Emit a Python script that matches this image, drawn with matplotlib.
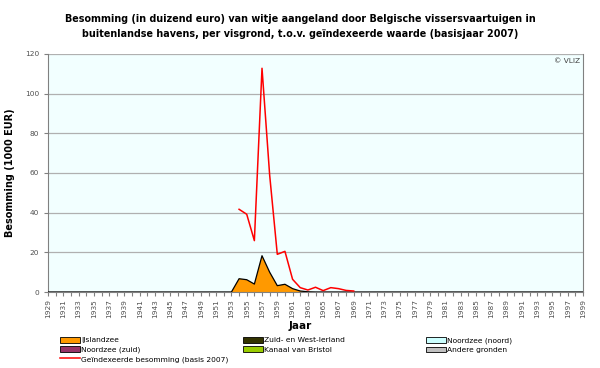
import numpy as np
import matplotlib.pyplot as plt
from matplotlib.patches import Patch
from matplotlib.lines import Line2D

years = list(range(1929, 2000))

# IJslandzee besomming (1000 EUR), only non-zero in 1953-1963
ijsland_years = [1953, 1954, 1955, 1956, 1957, 1958, 1959, 1960, 1961, 1962, 1963]
ijsland_vals = [0.0, 6.7, 6.2, 4.0, 18.3, 10.0, 3.2, 3.9, 1.7, 0.5, 0.1]

# geindexeerde besomming (basis 2007)
index_years = [1954, 1955, 1956, 1957, 1958, 1959, 1960, 1961, 1962, 1963,
               1964, 1965, 1966, 1967, 1968, 1969]
index_vals = [41.7, 39.2, 25.9, 112.8, 59.0, 19.0, 20.5, 6.4, 2.2, 1.0,
              2.4, 0.7, 2.2, 1.7, 0.8, 0.5]

ijsland = np.zeros(len(years))
for y, v in zip(ijsland_years, ijsland_vals):
    ijsland[years.index(y)] = v

fig = plt.figure(figsize=(6, 3.68), dpi=100)
ax = fig.add_axes([0.08, 0.2065, 0.8917, 0.6468])
ax.set_facecolor('#f2ffff')

ax.fill_between(years, 0, ijsland, facecolor='#ff9900', edgecolor='none', zorder=2)
ax.plot(years, ijsland, color='black', lw=0.9, zorder=3)
ax.plot(index_years, index_vals, color='#ff0000', lw=1.1, zorder=4)

ax.set_xlim(1929, 1999)
ax.set_ylim(0, 120)
ax.set_yticks(range(0, 121, 20))
ax.set_xticks(years)
ax.set_xticklabels([str(y) if (y - 1929) % 2 == 0 else '' for y in years],
                   rotation=90, fontsize=5.3, color='#505050')
ax.tick_params(axis='y', labelsize=5.3, labelcolor='#505050', length=3, color='#808080')
ax.tick_params(axis='x', length=3, color='#808080', pad=2)
ax.yaxis.grid(True, color='#b0b0b0', lw=0.9)
ax.set_axisbelow(True)
for s in ['left', 'bottom', 'right']:
    ax.spines[s].set_color('#808080')
    ax.spines[s].set_linewidth(0.8)
ax.spines['top'].set_visible(False)

ax.set_ylabel('Besomming (1000 EUR)', fontsize=7, fontweight='bold', labelpad=7)
ax.text(0.995, 0.985, '© VLIZ', transform=ax.transAxes, ha='right', va='top',
        fontsize=5.3, color='#404040')

fig.text(0.5, 0.962, 'Besomming (in duizend euro) van witje aangeland door Belgische vissersvaartuigen in\n'
         'buitenlandse havens, per visgrond, t.o.v. geïndexeerde waarde (basisjaar 2007)',
         ha='center', va='top', fontsize=6.9, fontweight='bold', linespacing=1.6)
fig.text(0.5, 1 - 326 / 368, 'Jaar', ha='center', va='center', fontsize=7.5, fontweight='bold')

def patch(c):
    return Patch(facecolor=c, edgecolor='black', lw=0.6)

cols = [
    ([patch('#ff9900'), patch('#993366'), Line2D([], [], color='#ff0000', lw=1.1)],
     ['IJslandzee', 'Noordzee (zuid)', 'Geïndexeerde besomming (basis 2007)'], 60),
    ([patch('#333300'), patch('#99cc00')],
     ['Zuid- en West-Ierland', 'Kanaal van Bristol'], 243),
    ([patch('#ccffff'), patch('#c0c0c0')],
     ['Noordzee (noord)', 'Andere gronden'], 426),
]
for handles, labels, xp in cols:
    fig.legend(handles, labels, loc='upper left', bbox_to_anchor=(xp / 600, 1 - 337 / 368),
               frameon=False, fontsize=5.4, handlelength=2.6, handleheight=0.8,
               handletextpad=0.25, labelspacing=0.35, borderpad=0, borderaxespad=0)

fig.savefig('out.png', dpi=100)
